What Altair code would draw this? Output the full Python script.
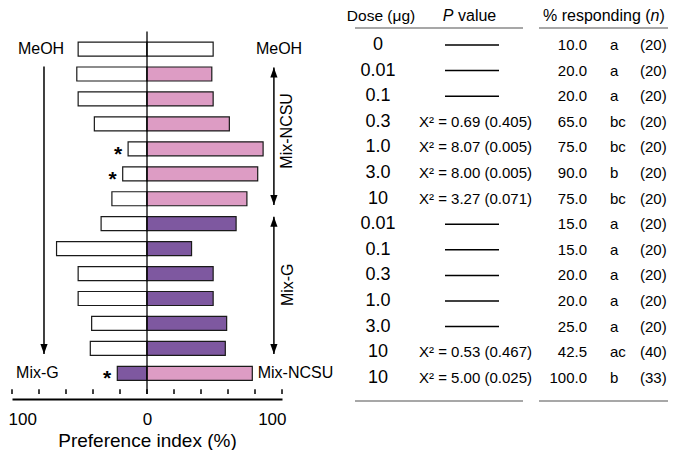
import altair as alt
import pandas as pd

FONT = "Liberation Sans, Arial, Helvetica, sans-serif"

# ---------------- data ----------------
rows = list(range(1, 15))
doses = ["0", "0.01", "0.1", "0.3", "1.0", "3.0", "10",
         "0.01", "0.1", "0.3", "1.0", "3.0", "10", "10"]
chi_text = ["", "", "", "X² = 0.69 (0.405)", "X² = 8.07 (0.005)", "X² = 8.00 (0.005)",
            "X² = 3.27 (0.071)", "", "", "", "", "", "X² = 0.53 (0.467)", "X² = 5.00 (0.025)"]
pct_resp = ["10.0", "20.0", "20.0", "65.0", "75.0", "90.0", "75.0",
            "15.0", "15.0", "20.0", "20.0", "25.0", "42.5", "100.0"]
letters = ["a", "a", "a", "bc", "bc", "b", "bc", "a", "a", "a", "a", "a", "ac", "b"]
n_resp = [20, 20, 20, 20, 20, 20, 20, 20, 20, 20, 20, 20, 40, 33]
control_pi = [-51, -52, -51, -39, -14, -18, -26, -34, -67, -51, -51, -41, -42, -22]
treat_pi = [49, 48, 49, 61, 86, 82, 74, 66, 33, 49, 49, 59, 58, 78]
control_stim = ["MeOH"] * 13 + ["Mix-G"]
treat_stim = ["MeOH"] + ["Mix-NCSU"] * 6 + ["Mix-G"] * 6 + ["Mix-NCSU"]
significant = [False, False, False, False, True, True, False,
               False, False, False, False, False, False, True]
stim_names = ["MeOH", "Mix-NCSU", "Mix-G"]
stim_colors = ["#ffffff", "#dd9cc4", "#7e58a0"]
tick_values = [-100, -80, -60, -40, -20, 0, 20, 40, 60, 80, 100]
label_values = [-100, 0, 100]

# ---------------- layout constants ----------------
ROW_PX = 25.6
PLOT_H = 391
Y_TOP = 1 - 37 / ROW_PX
Y_BOT = Y_TOP + PLOT_H / ROW_PX
ys = alt.Scale(domain=[Y_TOP, Y_BOT], reverse=True, nice=False, zero=False)
xs = alt.Scale(domain=[-100, 100], nice=False, zero=False)
xr = alt.Scale(domain=[0, 328], nice=False, zero=False)

x_axis = alt.Axis(values=label_values, labelExpr="'' + abs(datum.value)", ticks=False, tickSize=0,
                  grid=False, domainColor="#000000", domainWidth=2, labelFontSize=17, labelFont=FONT,
                  labelColor="#000000", labelPadding=12, labelFlush=True, labelFlushOffset=4,
                  titleFontSize=19, titleFont=FONT, titleFontWeight="normal", titleColor="#000000",
                  titlePadding=4)
X_TITLE = "Preference index (%)"


def XL(f):
    return alt.X(f, type="quantitative", scale=xs, axis=x_axis, title=X_TITLE)


def YL(f):
    return alt.Y(f, type="quantitative", scale=ys, axis=None)


def XR(f):
    return alt.X(f, type="quantitative", scale=xr, axis=None)


# ---------------- left panel ----------------
bar_df = pd.DataFrame({
    "row": rows + rows,
    "value": control_pi + treat_pi,
    "stim": control_stim + treat_stim,
})

bars = alt.Chart(bar_df).mark_bar(orient="horizontal", size=14, stroke="#1a1a1a", strokeWidth=1.2).encode(
    x=XL("value"), x2=alt.datum(0), y=YL("row"),
    fill=alt.Fill("stim:N", scale=alt.Scale(domain=stim_names, range=stim_colors), legend=None),
)

zero_df = pd.DataFrame({"x": [0], "y": [1 - 18 / ROW_PX], "y2": [Y_BOT]})
zero_line = alt.Chart(zero_df).mark_rule(color="#000000", strokeWidth=1.3).encode(
    x=XL("x"), y=YL("y"), y2="y2")

tick_df = pd.DataFrame({"x": tick_values, "y": [Y_BOT] * len(tick_values),
                        "y2": [Y_BOT - 5 / ROW_PX] * len(tick_values)})
ticks = alt.Chart(tick_df).mark_rule(color="#000000", strokeWidth=1.5).encode(
    x=XL("x"), y=YL("y"), y2="y2")

star_df = pd.DataFrame({"row": [r for r, s in zip(rows, significant) if s],
                        "value": [v for v, s in zip(control_pi, significant) if s]})
stars = alt.Chart(star_df).mark_text(text="*", align="right", baseline="middle", dx=-6, dy=6,
                                     fontSize=21, fontWeight="bold", font=FONT, color="#000000").encode(
    x=XL("value"), y=YL("row"))

side_df = pd.DataFrame({"label": ["MeOH", "Mix-G", "MeOH", "Mix-NCSU"],
                        "x": [-95.6, -97, 80.7, 82], "y": [1, 14, 1, 14]})
side_labels = alt.Chart(side_df).mark_text(align="left", baseline="middle", fontSize=16, font=FONT,
                                           color="#000000").encode(
    x=XL("x"), y=YL("y"), text="label:N")

group_df = pd.DataFrame({"label": ["Mix-NCSU", "Mix-G"], "x": [104, 104.4], "y": [4.28, 10.45]})
group_labels = alt.Chart(group_df).mark_text(angle=270, align="center", baseline="middle", fontSize=16,
                                             font=FONT, color="#000000").encode(
    x=XL("x"), y=YL("y"), text="label:N")

arrow_df = pd.DataFrame({"x": [-76.3, 94, 94], "y": [1.703, 1.742, 7.72], "y2": [13.227, 7.25, 13.227]})
arrows = alt.Chart(arrow_df).mark_rule(color="#000000", strokeWidth=1.5).encode(
    x=XL("x"), y=YL("y"), y2="y2")

up_df = pd.DataFrame({"x": [94, 94], "y": [1.742, 7.72]})
down_df = pd.DataFrame({"x": [-76.3, 94, 94], "y": [13.227, 7.25, 13.227]})
heads_up = alt.Chart(up_df).mark_point(shape="M0,0L0.36,1L-0.36,1Z", size=400, filled=True,
                                       color="#000000", opacity=1).encode(x=XL("x"), y=YL("y"))
heads_down = alt.Chart(down_df).mark_point(shape="M0,0L0.36,-1L-0.36,-1Z", size=400, filled=True,
                                           color="#000000", opacity=1).encode(x=XL("x"), y=YL("y"))

left = alt.layer(bars, zero_line, ticks, stars, side_labels, group_labels, arrows, heads_up,
                 heads_down).properties(width=270, height=PLOT_H)

# ---------------- right panel (table) ----------------
tab_df = pd.DataFrame({
    "row": rows, "dose": doses, "chi": chi_text, "pct": pct_resp, "letter": letters,
    "n": ["(%d)" % v for v in n_resp],
})
tab_df["x_dose"] = 38
tab_df["x_chi"] = 135.5
tab_df["x_pct"] = 247
tab_df["x_let"] = 270
tab_df["x_n"] = 300

dose_txt = alt.Chart(tab_df).mark_text(align="center", baseline="middle", fontSize=18, font=FONT,
                                       color="#000000").encode(x=XR("x_dose"), y=YL("row"), text="dose:N")
chi_txt = alt.Chart(tab_df).mark_text(align="center", baseline="middle", fontSize=15, font=FONT,
                                      color="#000000").encode(x=XR("x_chi"), y=YL("row"), text="chi:N")
pct_txt = alt.Chart(tab_df).mark_text(align="right", baseline="middle", fontSize=15, font=FONT,
                                      color="#000000").encode(x=XR("x_pct"), y=YL("row"), text="pct:N")
let_txt = alt.Chart(tab_df).mark_text(align="left", baseline="middle", fontSize=15, font=FONT,
                                      color="#000000").encode(x=XR("x_let"), y=YL("row"), text="letter:N")
n_txt = alt.Chart(tab_df).mark_text(align="left", baseline="middle", fontSize=15, font=FONT,
                                    color="#000000").encode(x=XR("x_n"), y=YL("row"), text="n:N")

dash_df = pd.DataFrame({"row": [r for r, c in zip(rows, chi_text) if c == ""]})
dash_df["x"] = 105
dash_df["x2"] = 159
dashes = alt.Chart(dash_df).mark_rule(color="#000000", strokeWidth=1.5).encode(
    x=XR("x"), x2="x2", y=YL("row"))

HEAD_Y = 1 + (16 - 45) / ROW_PX
head_df = pd.DataFrame({
    "text": ["Dose (μg)", "P", "value", "% responding (", "n", ")"],
    "x": [41, 113.5, 118, 203, 310.6, 319.5],
    "align": ["center", "right", "left", "left", "left", "left"],
    "style": ["normal", "italic", "normal", "normal", "italic", "normal"],
    "size": [15.5, 16, 16, 16, 16, 16],
})
head_df["y"] = HEAD_Y
head_layers = []
for _, h in head_df.iterrows():
    head_layers.append(
        alt.Chart(pd.DataFrame([h])).mark_text(align=h["align"], baseline="middle", fontSize=float(h["size"]),
                                               fontStyle=h["style"], font=FONT, color="#000000").encode(
            x=XR("x"), y=YL("y"), text="text:N"))

line_df = pd.DataFrame({
    "x": [15, 199, 15, 199], "x2": [183, 328, 183, 328],
    "y": [1 - 17 / ROW_PX, 1 - 17 / ROW_PX, 1 + 356 / ROW_PX, 1 + 356 / ROW_PX],
})
table_lines = alt.Chart(line_df).mark_rule(color="#8a8a8a", strokeWidth=1.6).encode(
    x=XR("x"), x2="x2", y=YL("y"))

right = alt.layer(dose_txt, chi_txt, pct_txt, let_txt, n_txt, dashes, table_lines,
                  *head_layers).properties(width=328, height=PLOT_H)

chart = alt.hconcat(left, right, spacing=58, bounds="flush", padding=0).configure_view(strokeWidth=0)

chart.save("out.html", embed_options={"renderer": "svg", "actions": False})
